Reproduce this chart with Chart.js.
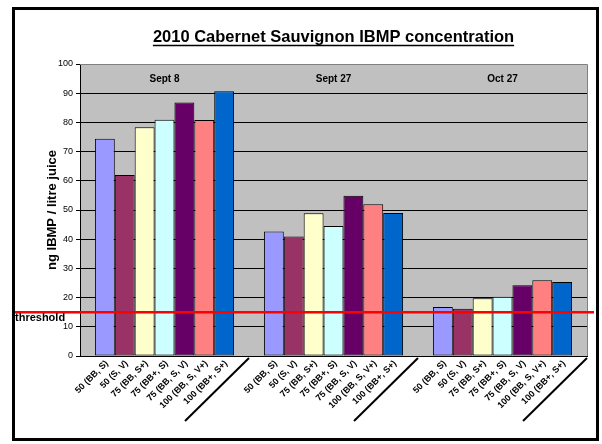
<!DOCTYPE html>
<html>
<head>
<meta charset="utf-8">
<script src="https://cdn.jsdelivr.net/npm/chart.js@4/dist/chart.umd.min.js"></script>
<style>
  html, body { margin: 0; padding: 0; background: #ffffff; }
  #wrap { width: 602px; height: 444px; position: relative; }
</style>
</head>
<body>
<div id="wrap"><canvas id="c" width="602" height="444"></canvas></div>
<script>
// Sampling dates (one group of bars per date)
const dates = ['Sept 8', 'Sept 27', 'Oct 27'];

// Treatments (one coloured bar per treatment in every group)
const treatments = ['50 (BB, S)', '50 (S, V)', '75 (BB, S+)', '75 (BB+, S)', '75 (BB, S, V)', '100 (BB, S, V+)', '100 (BB+, S+)'];

// IBMP concentration, ng / litre juice, per treatment for each date
const bb_s_50    = [74.4, 42.6, 16.8];
const s_v_50     = [62.0, 40.9, 16.2];
const bb_sp_75   = [78.3, 48.9, 19.8];
const bbp_s_75   = [80.9, 44.5, 20.3];
const bb_s_v_75  = [86.8, 54.9, 24.2];
const bb_s_vp_100 = [80.8, 52.0, 25.9];
const bbp_sp_100 = [90.7, 49.0, 25.3];

const seriesValues = [bb_s_50, s_v_50, bb_sp_75, bbp_s_75, bb_s_v_75, bb_s_vp_100, bbp_sp_100];
const seriesColors = ['#9999FF', '#993366', '#FFFFCC', '#CCFFFF', '#660066', '#FF8080', '#0066CC'];

// Value axis ticks and the sensory threshold
const yTicks = [0, 10, 20, 30, 40, 50, 60, 70, 80, 90, 100];
const thresholdValue = 15;
const thresholdLabel = 'threshold';

const FONT = '"Liberation Sans", Arial, Helvetica, sans-serif';

// Grey plot background and the outer frame
const backdrop = {
  id: 'backdrop',
  beforeDraw(chart) {
    const { ctx, chartArea: a } = chart;
    ctx.save();
    ctx.fillStyle = '#ffffff';
    ctx.fillRect(0, 0, chart.width, chart.height);
    ctx.fillStyle = '#C0C0C0';
    ctx.fillRect(a.left, a.top, a.right - a.left, a.bottom - a.top);
    ctx.strokeStyle = '#000000';
    ctx.lineWidth = 3;
    ctx.strokeRect(13.5, 8.5, 584, 431);
    ctx.restore();
  }
};

// Plot border, date headings, rotated treatment labels, group separators,
// threshold line and the underlined title
const overlay = {
  id: 'overlay',
  afterDraw(chart) {
    const { ctx, chartArea: a } = chart;
    const xs = chart.scales.x;
    const ys = chart.scales.y;
    ctx.save();

    // plot border (top and right)
    ctx.strokeStyle = '#808080';
    ctx.lineWidth = 1;
    ctx.beginPath();
    ctx.moveTo(a.left, a.top + 0.5);
    ctx.lineTo(a.right + 0.5, a.top + 0.5);
    ctx.lineTo(a.right + 0.5, a.bottom);
    ctx.stroke();

    // date headings across the top of the plot
    ctx.fillStyle = '#000000';
    ctx.font = 'bold 10px ' + FONT;
    ctx.textAlign = 'center';
    ctx.textBaseline = 'middle';
    dates.forEach((d, i) => {
      ctx.fillText(d, xs.getPixelForValue(i), a.top + 15);
    });

    // treatment labels under each bar, rotated 45 degrees
    ctx.font = 'bold 9px ' + FONT;
    ctx.textAlign = 'right';
    ctx.textBaseline = 'middle';
    chart.data.datasets.forEach((ds, i) => {
      const meta = chart.getDatasetMeta(i);
      meta.data.forEach((bar) => {
        ctx.save();
        ctx.translate(bar.x + 2, a.bottom + 6);
        ctx.rotate(-Math.PI / 4);
        ctx.fillText(treatments[i], 0, 0);
        ctx.restore();
      });
    });

    // diagonal separators at the right edge of each date group
    ctx.strokeStyle = '#000000';
    ctx.lineWidth = 2;
    const half = (xs.getPixelForValue(1) - xs.getPixelForValue(0)) / 2;
    dates.forEach((d, i) => {
      const bx = xs.getPixelForValue(i) + half;
      ctx.beginPath();
      ctx.moveTo(bx, a.bottom + 2);
      ctx.lineTo(bx - 64, a.bottom + 65);
      ctx.stroke();
    });

    // threshold line
    const ty = ys.getPixelForValue(thresholdValue);
    ctx.strokeStyle = '#FF0000';
    ctx.lineWidth = 2.5;
    ctx.beginPath();
    ctx.moveTo(15, ty);
    ctx.lineTo(a.right + 7, ty);
    ctx.stroke();
    ctx.fillStyle = '#000000';
    ctx.font = 'bold 11px ' + FONT;
    ctx.textAlign = 'left';
    ctx.textBaseline = 'alphabetic';
    ctx.fillText(thresholdLabel, 15, ty + 9);

    // underline of the title
    const tb = chart.titleBlock;
    if (tb) {
      const opts = tb.options;
      ctx.font = 'bold ' + opts.font.size + 'px ' + FONT;
      const w = ctx.measureText(opts.text).width;
      const cx = (tb.left + tb.right) / 2;
      const cy = tb.top + opts.padding.top + opts.font.size * 1.2 / 2;
      ctx.strokeStyle = '#000000';
      ctx.lineWidth = 1.5;
      ctx.beginPath();
      ctx.moveTo(cx - w / 2, cy + 7.5);
      ctx.lineTo(cx + w / 2, cy + 7.5);
      ctx.stroke();
    }
    ctx.restore();
  }
};

const datasets = treatments.map((t, i) => ({
  label: t,
  data: seriesValues[i],
  backgroundColor: seriesColors[i],
  borderColor: '#000000',
  borderWidth: 1,
  borderSkipped: false,
  categoryPercentage: 7 / 8.5,
  barPercentage: 1.0
}));

new Chart(document.getElementById('c'), {
  type: 'bar',
  data: { labels: dates, datasets },
  options: {
    responsive: false,
    animation: false,
    devicePixelRatio: 1,
    layout: { padding: { left: 0, right: 15, top: 0, bottom: 88 } },
    plugins: {
      legend: { display: false },
      tooltip: { enabled: false },
      title: {
        display: true,
        text: '2010 Cabernet Sauvignon IBMP concentration',
        color: '#000000',
        fullSize: false,
        font: { family: FONT, size: 16.5, weight: 'bold', lineHeight: 1.2 },
        padding: { top: 28, bottom: 16.2 }
      }
    },
    scales: {
      x: {
        type: 'category',
        ticks: { display: false },
        grid: { display: false, drawTicks: false },
        border: { display: true, color: '#000000', width: 1 },
        afterFit(s) { s.height = 0; }
      },
      y: {
        min: 0,
        max: 100,
        afterBuildTicks(s) { s.ticks = yTicks.map(v => ({ value: v })); },
        ticks: {
          color: '#000000',
          font: { family: FONT, size: 9 },
          padding: 3
        },
        grid: {
          color: (c) => (c.tick && (c.tick.value === 0 || c.tick.value === 100)) ? 'rgba(0,0,0,0)' : '#000000',
          tickColor: '#000000',
          tickLength: 4,
          lineWidth: 1
        },
        border: { display: true, color: '#000000', width: 1 },
        title: {
          display: true,
          text: 'ng IBMP / litre juice',
          color: '#000000',
          font: { family: FONT, size: 13, weight: 'bold', lineHeight: 1.2 },
          padding: { top: 45, bottom: 0 }
        },
        afterFit(s) { s.width = 80; }
      }
    }
  },
  plugins: [backdrop, overlay]
});
</script>
</body>
</html>
